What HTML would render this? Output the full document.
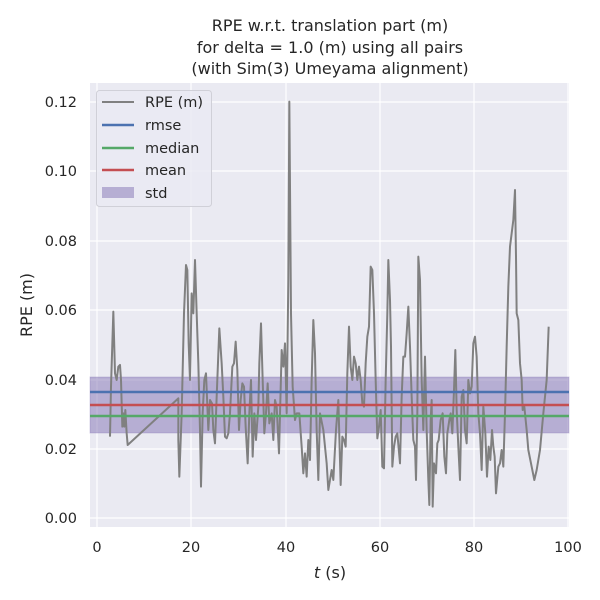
<!DOCTYPE html>
<html><head><meta charset="utf-8"><style>body{margin:0;background:#fff}svg{display:block}text{font-family:"DejaVu Sans","Liberation Sans",sans-serif;fill:#262626}</style></head>
<body>
<svg width="600" height="600" viewBox="0 0 600 600" xmlns="http://www.w3.org/2000/svg">
<rect x="90" y="83" width="479" height="444" fill="#eaeaf2"/>
<g stroke="#fff" stroke-width="1.2">
<line x1="97" y1="83" x2="97" y2="527"/><line x1="191" y1="83" x2="191" y2="527"/><line x1="286" y1="83" x2="286" y2="527"/><line x1="380" y1="83" x2="380" y2="527"/><line x1="474" y1="83" x2="474" y2="527"/><line x1="568" y1="83" x2="568" y2="527"/>
<line x1="90" y1="518" x2="569" y2="518"/><line x1="90" y1="449" x2="569" y2="449"/><line x1="90" y1="380" x2="569" y2="380"/><line x1="90" y1="310" x2="569" y2="310"/><line x1="90" y1="241" x2="569" y2="241"/><line x1="90" y1="171" x2="569" y2="171"/><line x1="90" y1="102" x2="569" y2="102"/>
</g>
<rect x="90" y="377" width="479" height="56" fill="#8172b3" fill-opacity="0.5" stroke="#8172b3" stroke-opacity="0.3"/>
<g fill="none" stroke="#808080" stroke-width="2" stroke-linejoin="round">
<polyline vector-effect="non-scaling-stroke" transform="translate(90,80) scale(0.33333)" points="60,1070 63,920 70,695 75,880 80,900 85,860 90,855 93,900 97,1040 100,1000 103,1040 106,990 110,1060 113,1095 265,955 265,1080 268,1190 275,1000 282,700 288,555 292,570 296,790 300,900 305,640 310,700 315,540 320,700 325,850 330,1050 333,1220 338,1000 343,900 348,880 355,1050 360,960 366,970 370,1050 375,1090 380,950 388,745 395,850 400,950 405,1070 410,1075 415,1060 420,1000 427,860 432,850 437,785 442,870 447,1050 452,960 457,910 462,920 467,1040 473,1150 478,1000 483,900 488,1130 493,1000 498,1080 505,980 508,850 513,730 518,900 523,1060 528,1000 533,910 538,1030 545,1000 550,1080 555,960 560,980 567,1120 575,810 580,860 585,790 590,1000 595,600 598,65 603,700 608,920 615,1020 620,1000 628,1000 635,1100 640,1180 645,1120 650,1190 655,1080 660,1140 665,900 670,720 675,820 680,1050 685,1200 690,1000 700,1050 710,1150 715,1230 720,1200"/>
<polyline vector-effect="non-scaling-stroke" transform="translate(330,80) scale(0.33333)" points="0,1200 5,1170 10,1200 18,1050 25,960 32,1215 37,1070 42,1080 47,1100 52,880 57,740 62,860 67,900 72,830 77,850 82,900 87,860 92,900 97,970 102,980 107,850 112,770 117,740 122,560 127,570 132,700 137,900 142,1075 147,1040 152,990 157,1160 162,1165 167,900 172,700 175,540 180,660 183,800 187,1160 192,1100 197,1070 202,1060 210,1150 215,950 220,830 225,830 230,760 235,680 240,800 245,950 250,1080 255,1100 258,1200 262,1000 265,530 270,600 275,900 280,1050 285,830 290,1050 295,1200 298,1275 302,1020 305,960 308,1280 312,1150 318,1180 322,1090 326,1080 332,1020 338,1000 343,1130 348,1180 352,1060 358,1020 362,1000 367,1060 372,930 376,810 380,990 385,1100 390,1200 395,950 400,930 405,1050 410,1090 412,1020 415,900 420,940 425,920 430,790 435,770 440,830 445,1000 450,1060 455,1170 460,980 466,1060 471,1190 476,1100 481,1140 486,1050 490,1100 494,1130 498,1240 505,1160 510,1150 515,1110 520,1160 525,1000 530,800 535,620 540,500 545,460 550,420 555,330 558,530 560,700 565,720 570,850 575,900 578,990 583,980 590,1050 595,1110 605,1160 613,1200 620,1170 630,1110 640,1000 650,900 656,740"/>
</g>
<line x1="90" y1="392" x2="569" y2="392" stroke="#4c72b0" stroke-width="2.5"/>
<line x1="90" y1="405" x2="569" y2="405" stroke="#c44e52" stroke-width="2.5"/>
<line x1="90" y1="416" x2="569" y2="416" stroke="#55a868" stroke-width="2.5"/>
<rect x="96.5" y="90.5" width="115" height="116" rx="3" fill="#eaeaf2" fill-opacity="0.8" stroke="#d0d0d8"/>
<line x1="102" y1="102" x2="134" y2="102" stroke="#808080" stroke-width="2"/>
<line x1="102" y1="125" x2="134" y2="125" stroke="#4c72b0" stroke-width="2.5"/>
<line x1="102" y1="148" x2="134" y2="148" stroke="#55a868" stroke-width="2.5"/>
<line x1="102" y1="170" x2="134" y2="170" stroke="#c44e52" stroke-width="2.5"/>
<rect x="102" y="187" width="32" height="11" fill="#8172b3" fill-opacity="0.5"/>
<g font-size="14.5"><text x="145" y="107">RPE (m)</text><text x="145" y="130">rmse</text><text x="145" y="153">median</text><text x="145" y="175">mean</text><text x="145" y="198">std</text></g>
<g font-size="14.5" text-anchor="end"><text x="77" y="523">0.00</text><text x="77" y="454">0.02</text><text x="77" y="385">0.04</text><text x="77" y="315">0.06</text><text x="77" y="246">0.08</text><text x="77" y="176">0.10</text><text x="77" y="107">0.12</text></g>
<g font-size="14.5" text-anchor="middle"><text x="97" y="552">0</text><text x="191" y="552">20</text><text x="286" y="552">40</text><text x="380" y="552">60</text><text x="474" y="552">80</text><text x="568" y="552">100</text>
<text x="330" y="578" font-size="16"><tspan font-style="italic">t</tspan> (s)</text>
<text x="330" y="31" font-size="16">RPE w.r.t. translation part (m)</text>
<text x="330" y="53" font-size="16">for delta = 1.0 (m) using all pairs</text>
<text x="330" y="74" font-size="16">(with Sim(3) Umeyama alignment)</text>
<text transform="translate(32,305) rotate(-90)" font-size="16">RPE (m)</text></g>
</svg>
</body></html>
